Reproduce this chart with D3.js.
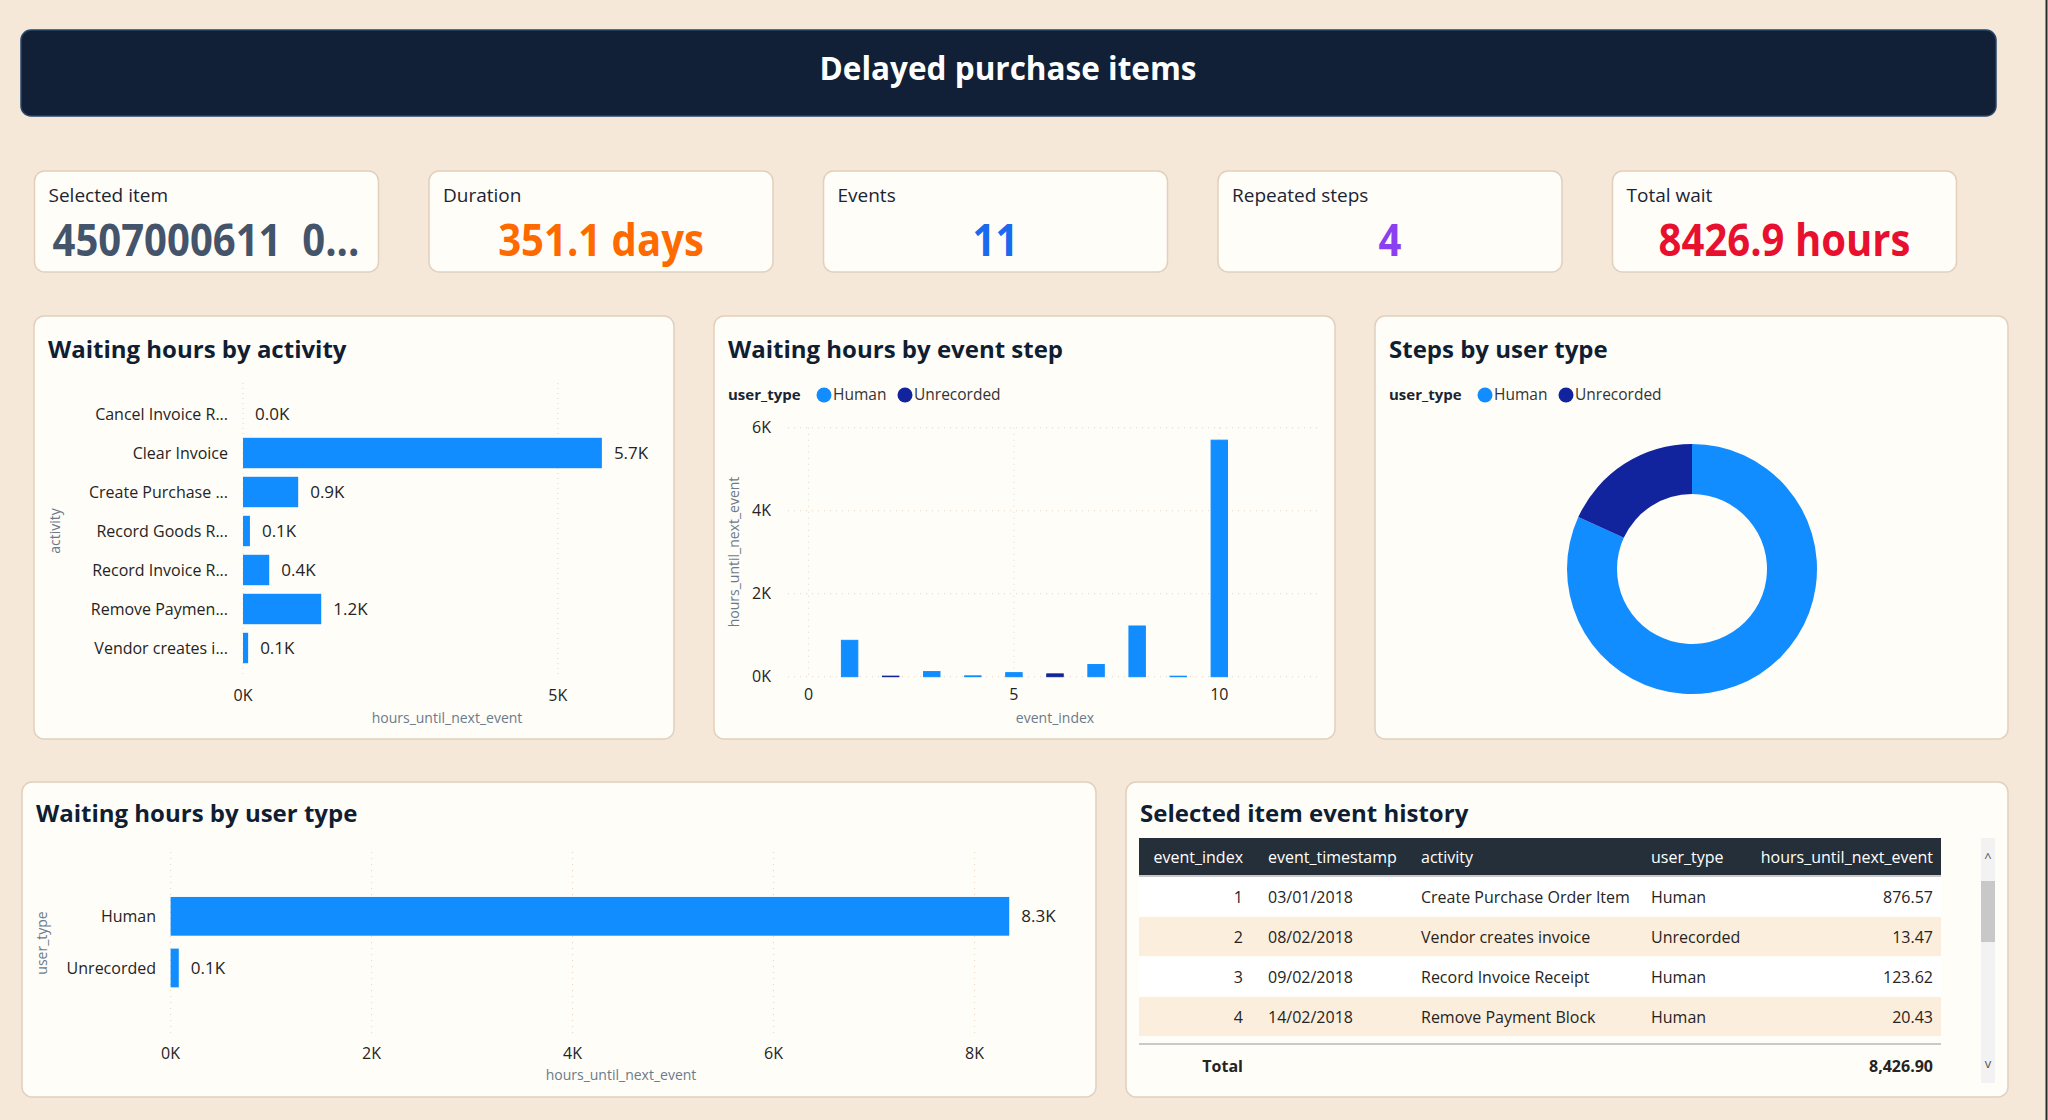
<!DOCTYPE html>
<html>
<head>
<meta charset="utf-8">
<script src="https://cdn.jsdelivr.net/npm/d3@7"></script>
<style>
body{margin:0;background:#F5E8D9;}
svg{display:block;font-family:"Open Sans",sans-serif;}
</style>
</head>
<body>
<svg id="dash" width="2048" height="1120"></svg>
<script>
// events of the selected purchase item
const eventIndex=[1,2,3,4,5,6,7,8,9,10,11];
const eventActivity=['Create Purchase Order Item','Vendor creates invoice','Record Invoice Receipt','Remove Payment Block',
  'Record Goods Receipt','Vendor creates invoice','Record Invoice Receipt','Remove Payment Block',
  'Record Goods Receipt','Clear Invoice','Cancel Invoice Receipt'];
const eventUserType=['Human','Unrecorded','Human','Human','Human','Unrecorded','Human','Human','Human','Human','Human'];
const eventHours=[876.57,13.47,123.62,20.43,98,68,293,1222,12,5699.81,0];
const eventDates=['03/01/2018','08/02/2018','09/02/2018','14/02/2018'];
const userTypes=['Human','Unrecorded'];
const selectedItem='4507000611  0...';
const durationDays=351.1;
// tick values
const activityTicks=[0,5000];
const stepXTicks=[0,5,10];
const stepYTicks=[0,2000,4000,6000];
const userTicks=[0,2000,4000,6000,8000];

const events=eventIndex.map((d,i)=>({idx:d,activity:eventActivity[i],user:eventUserType[i],hours:eventHours[i]}));
const byActivity=d3.rollups(events,v=>d3.sum(v,d=>d.hours),d=>d.activity).sort((a,b)=>d3.ascending(a[0],b[0]));
const byUserHours=userTypes.map(u=>[u,d3.sum(events.filter(d=>d.user===u),d=>d.hours)]);
const byUserSteps=userTypes.map(u=>[u,events.filter(d=>d.user===u).length]);
const totalHours=d3.sum(eventHours);
const repeated=d3.rollups(events,v=>v.length,d=>d.activity).filter(d=>d[1]>1).length;

const color=d3.scaleOrdinal().domain(userTypes).range(['#118DFF','#12239E']);
const kfmt=v=>d3.format('.1f')(v/1000)+'K';
const tfmt=v=>v/1000+'K';

const svg=d3.select('#dash');
svg.append('rect').attr('width',2048).attr('height',1120).attr('fill','#F5E8D9');
svg.append('line').attr('x1',2046.5).attr('x2',2046.5).attr('y1',0).attr('y2',1120).attr('stroke','#2b2b2b').attr('stroke-width',2);

// header
svg.append('rect').attr('x',21).attr('y',30).attr('width',1975).attr('height',86).attr('rx',10)
  .attr('fill','#112037').attr('stroke','#25456b').attr('stroke-width',1.5);
svg.append('text').attr('x',1008).attr('y',80).attr('text-anchor','middle')
  .attr('fill','#fff').attr('font-size',31.5).attr('font-weight',700).text('Delayed purchase items');

function panel(x,y,w,h){
  svg.append('rect').attr('x',x).attr('y',y).attr('width',w).attr('height',h).attr('rx',10)
    .attr('fill','#FFFDF8').attr('stroke','#E2D0BD').attr('stroke-width',1.5);
}
function title(x,y,t){
  svg.append('text').attr('x',x).attr('y',y).attr('fill','#0F1E32')
    .attr('font-size',24).attr('font-weight',700).text(t);
}

// KPI cards
const kpis=[
  {label:'Selected item',value:selectedItem,color:'#44546A',left:true},
  {label:'Duration',value:durationDays+' days',color:'#FF6A00'},
  {label:'Events',value:String(events.length),color:'#1A6AF0'},
  {label:'Repeated steps',value:String(repeated),color:'#8A3FF0'},
  {label:'Total wait',value:d3.format('.1f')(totalHours)+' hours',color:'#E8102F'}
];
kpis.forEach((k,i)=>{
  const x=34.5+i*394.5;
  panel(x,171,344,101);
  svg.append('text').attr('x',x+14).attr('y',202).attr('fill','#1b2433').attr('font-size',19).text(k.label);
  svg.append('g').attr('transform',`translate(${k.left?x+18:x+172},256) scale(0.9,1)`)
    .append('text').attr('text-anchor',k.left?'start':'middle').attr('fill',k.color)
    .style('white-space','pre')
    .attr('font-size',44.5).attr('font-weight',700).text(k.value);
});

function fitText(sel,maxW){
  sel.each(function(){
    const t=d3.select(this);let s=t.text();
    if(this.getComputedTextLength()<=maxW) return;
    while(s.length>1){s=s.slice(0,-1);t.text(s+'...');if(this.getComputedTextLength()<=maxW) break;}
  });
}

// ---- Waiting hours by activity
panel(34,316,640,423);
title(48,358,'Waiting hours by activity');
{
  const x=d3.scaleLinear().domain([0,6480]).range([243,651]);
  const y=d3.scaleBand().domain(byActivity.map(d=>d[0])).range([394.5,667.5]).paddingInner(0.22).paddingOuter(0.11);
  const g=svg.append('g');
  g.selectAll('.grid').data(activityTicks).join('line')
    .attr('x1',d=>x(d)).attr('x2',d=>x(d)).attr('y1',383).attr('y2',678)
    .attr('stroke','#E6D6C4').attr('stroke-dasharray','1,4');
  g.selectAll('.bar').data(byActivity).join('rect')
    .attr('x',x(0)).attr('y',d=>y(d[0])).attr('width',d=>x(d[1])-x(0)).attr('height',y.bandwidth())
    .attr('fill','#118DFF');
  g.selectAll('.lab').data(byActivity).join('text')
    .attr('x',d=>x(d[1])+12).attr('y',d=>y(d[0])+y.bandwidth()/2).attr('dy','0.35em')
    .attr('font-size',17).attr('fill','#252423').text(d=>kfmt(d[1]));
  g.selectAll('.cat').data(byActivity).join('text')
    .attr('x',228).attr('y',d=>y(d[0])+y.bandwidth()/2).attr('dy','0.35em').attr('text-anchor','end')
    .attr('font-size',16).attr('fill','#252423').text(d=>d[0]).call(fitText,140);
  g.selectAll('.tick').data(activityTicks).join('text')
    .attr('x',d=>x(d)).attr('y',701).attr('text-anchor','middle').attr('font-size',16).attr('fill','#252423').text(tfmt);
  g.append('text').attr('x',447).attr('y',723).attr('text-anchor','middle').attr('font-size',14).attr('fill','#6B7A8B').text('hours_until_next_event');
  g.append('text').attr('transform','translate(60,531) rotate(-90)').attr('text-anchor','middle')
    .attr('font-size',14).attr('fill','#6B7A8B').text('activity');
}

function legend(x,y){
  const g=svg.append('g');
  g.append('text').attr('x',x).attr('y',y+5).attr('font-size',15).attr('font-weight',700).attr('fill','#1b2433').text('user_type');
  const pos=[x+96,x+177];
  userTypes.forEach((u,i)=>{
    g.append('circle').attr('cx',pos[i]).attr('cy',y).attr('r',7.5).attr('fill',color(u));
    g.append('text').attr('x',pos[i]+9).attr('y',y+5).attr('font-size',15.5).attr('fill','#333').text(u);
  });
}

// ---- Waiting hours by event step
panel(714,316,621,423);
title(728,358,'Waiting hours by event step');
legend(728,395);
{
  const x=d3.scaleLinear().domain([-0.5,12.5]).range([788,1322]);
  const y=d3.scaleLinear().domain([0,6000]).range([676.7,427.7]);
  const g=svg.append('g');
  g.selectAll('.gy').data(stepYTicks).join('line')
    .attr('x1',788).attr('x2',1322).attr('y1',d=>y(d)).attr('y2',d=>y(d))
    .attr('stroke','#E6D6C4').attr('stroke-dasharray','1,5');
  g.selectAll('.gx').data(stepXTicks).join('line')
    .attr('x1',d=>x(d)).attr('x2',d=>x(d)).attr('y1',427.7).attr('y2',676.7)
    .attr('stroke','#E6D6C4').attr('stroke-dasharray','1,5');
  const bw=x(0.4)-x(0);
  g.selectAll('.bar').data(events.filter(d=>d.hours>0)).join('rect')
    .attr('x',d=>x(d.idx)-bw/2).attr('width',bw)
    .attr('y',d=>y(d.hours)).attr('height',d=>y(0)-y(d.hours))
    .attr('fill',d=>color(d.user)).attr('stroke',d=>color(d.user)).attr('stroke-width',1);
  g.selectAll('.ty').data(stepYTicks).join('text')
    .attr('x',771).attr('y',d=>y(d)).attr('dy','0.35em').attr('text-anchor','end')
    .attr('font-size',16).attr('fill','#252423').text(tfmt);
  g.selectAll('.tx').data(stepXTicks).join('text')
    .attr('x',d=>x(d)).attr('y',700).attr('text-anchor','middle')
    .attr('font-size',16).attr('fill','#252423').text(d=>d);
  g.append('text').attr('x',1055).attr('y',723).attr('text-anchor','middle').attr('font-size',14).attr('fill','#6B7A8B').text('event_index');
  g.append('text').attr('transform','translate(739,552) rotate(-90)').attr('text-anchor','middle')
    .attr('font-size',14).attr('fill','#6B7A8B').text('hours_until_next_event');
}

// ---- Steps by user type
panel(1375,316,633,423);
title(1389,358,'Steps by user type');
legend(1389,395);
{
  const pie=d3.pie().sort(null).value(d=>d[1]);
  const arc=d3.arc().innerRadius(75).outerRadius(125);
  svg.append('g').attr('transform','translate(1692,569)')
    .selectAll('path').data(pie(byUserSteps)).join('path')
    .attr('d',arc).attr('fill',d=>color(d.data[0]));
}

// ---- Waiting hours by user type
panel(22,782,1074,315);
title(36,822,'Waiting hours by user type');
{
  const x=d3.scaleLinear().domain([0,8970]).range([170.6,1072]);
  const y=d3.scaleBand().domain(userTypes).range([890.5,993.8]).paddingInner(0.25).paddingOuter(0.125);
  const g=svg.append('g');
  g.selectAll('.grid').data(userTicks).join('line')
    .attr('x1',d=>x(d)).attr('x2',d=>x(d)).attr('y1',852).attr('y2',1037)
    .attr('stroke','#E6D6C4').attr('stroke-dasharray','1,5');
  g.selectAll('.bar').data(byUserHours).join('rect')
    .attr('x',x(0)).attr('y',d=>y(d[0])).attr('width',d=>x(d[1])-x(0)).attr('height',y.bandwidth())
    .attr('fill','#118DFF');
  g.selectAll('.lab').data(byUserHours).join('text')
    .attr('x',d=>x(d[1])+12).attr('y',d=>y(d[0])+y.bandwidth()/2).attr('dy','0.35em')
    .attr('font-size',17).attr('fill','#252423').text(d=>kfmt(d[1]));
  g.selectAll('.cat').data(userTypes).join('text')
    .attr('x',156).attr('y',d=>y(d)+y.bandwidth()/2).attr('dy','0.35em').attr('text-anchor','end')
    .attr('font-size',16).attr('fill','#252423').text(d=>d);
  g.selectAll('.tick').data(userTicks).join('text')
    .attr('x',d=>x(d)).attr('y',1059).attr('text-anchor','middle').attr('font-size',16).attr('fill','#252423').text(tfmt);
  g.append('text').attr('x',621).attr('y',1080).attr('text-anchor','middle').attr('font-size',14).attr('fill','#6B7A8B').text('hours_until_next_event');
  g.append('text').attr('transform','translate(47,943) rotate(-90)').attr('text-anchor','middle')
    .attr('font-size',14).attr('fill','#6B7A8B').text('user_type');
}

// ---- Selected item event history table
panel(1126,782,882,315);
title(1140,822,'Selected item event history');
{
  const cols=[
    {name:'event_index',x:1243,anchor:'end',val:d=>d.idx},
    {name:'event_timestamp',x:1268,anchor:'start',val:(d,i)=>eventDates[i]},
    {name:'activity',x:1421,anchor:'start',val:d=>d.activity},
    {name:'user_type',x:1651,anchor:'start',val:d=>d.user},
    {name:'hours_until_next_event',x:1933,anchor:'end',val:d=>d3.format('.2f')(d.hours)}
  ];
  const rows=events.slice(0,eventDates.length);
  const g=svg.append('g');
  g.append('rect').attr('x',1139).attr('y',838).attr('width',802).attr('height',38).attr('fill','#252F39');
  g.append('line').attr('x1',1139).attr('x2',1941).attr('y1',876).attr('y2',876).attr('stroke','#C9C9C9').attr('stroke-width',2);
  g.selectAll('.hd').data(cols).join('text')
    .attr('x',d=>d.x).attr('y',857).attr('dy','0.35em').attr('text-anchor',d=>d.anchor)
    .attr('font-size',16).attr('fill','#fff').text(d=>d.name);
  const r=g.selectAll('.row').data(rows).join('g').attr('transform',(d,i)=>`translate(0,${877+i*40})`);
  r.append('rect').attr('x',1139).attr('width',802).attr('height',39).attr('fill',(d,i)=>i%2?'#FCEEDC':'#FFFFFF');
  cols.forEach(c=>{
    r.append('text').attr('x',c.x).attr('y',20).attr('dy','0.35em').attr('text-anchor',c.anchor)
      .attr('font-size',16).attr('fill','#252423').text((d,i)=>c.val(d,i));
  });
  g.append('line').attr('x1',1139).attr('x2',1941).attr('y1',1044).attr('y2',1044).attr('stroke','#C9C9C9').attr('stroke-width',2);
  g.append('text').attr('x',1243).attr('y',1066).attr('dy','0.35em').attr('text-anchor','end')
    .attr('font-size',16).attr('font-weight',700).attr('fill','#252423').text('Total');
  g.append('text').attr('x',1933).attr('y',1066).attr('dy','0.35em').attr('text-anchor','end')
    .attr('font-size',16).attr('font-weight',700).attr('fill','#252423').text(d3.format(',.2f')(totalHours));
  // scrollbar
  g.append('rect').attr('x',1981).attr('y',838).attr('width',14).attr('height',245).attr('fill','#F2F2F2');
  g.append('rect').attr('x',1981).attr('y',881).attr('width',14).attr('height',61).attr('fill','#C8C8C8');
  g.append('text').attr('x',1988).attr('y',862).attr('text-anchor','middle').attr('font-size',13).attr('fill','#555').text('^');
  g.append('text').attr('x',1988).attr('y',1068).attr('text-anchor','middle').attr('font-size',13).attr('fill','#555').text('v');
}
</script>
</body>
</html>
